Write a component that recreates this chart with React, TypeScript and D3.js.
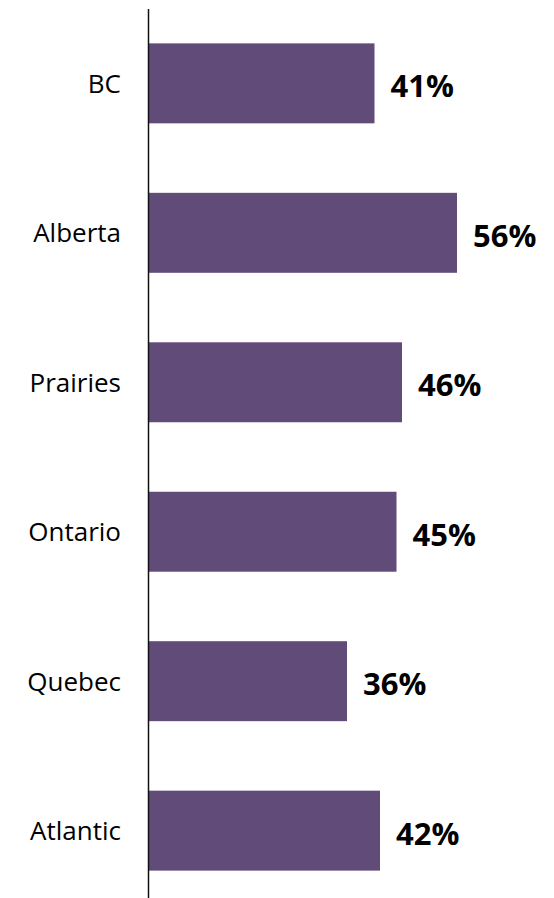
import React from 'react';
import * as d3 from 'd3';

const regions = ['BC', 'Alberta', 'Prairies', 'Ontario', 'Quebec', 'Atlantic'];
const shares = [41, 56, 46, 45, 36, 42];

const width = 554;
const height = 898;
const axisX = 148.5;

export default function App() {
    const x = d3.scaleLinear().domain([0, 100]).range([149, 699]);
    const y = d3
        .scaleBand<string>()
        .domain(regions)
        .range([9, 905])
        .paddingInner(0.465)
        .paddingOuter(0.23);

    return (
        <div style={{ position: 'absolute', left: 0, top: 0 }}>
            <svg width={width} height={height} style={{ display: 'block' }}>
                {regions.map((r, i) => {
                    const top = y(r) as number;
                    const mid = top + y.bandwidth() / 2;
                    return (
                        <g key={r}>
                            <rect
                                x={x(0)}
                                y={top}
                                width={x(shares[i]) - x(0)}
                                height={y.bandwidth()}
                                fill="#614b79"
                            />
                            <text
                                x={121}
                                y={mid + 9.5}
                                textAnchor="end"
                                fontFamily="'Open Sans', sans-serif"
                                fontSize={26}
                                fill="#000"
                            >
                                {r}
                            </text>
                            <text
                                x={x(shares[i]) + 16}
                                y={mid + 14}
                                fontFamily="'Open Sans', sans-serif"
                                fontWeight="bold"
                                fontSize={31}
                                fill="#000"
                            >
                                {shares[i] + '%'}
                            </text>
                        </g>
                    );
                })}
                <line x1={axisX} x2={axisX} y1={9} y2={height} stroke="#111" strokeWidth={1.5} />
            </svg>
        </div>
    );
}
